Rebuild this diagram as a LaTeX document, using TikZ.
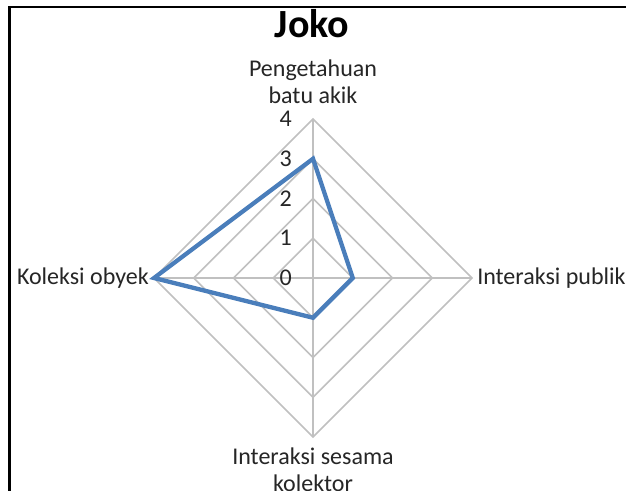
\documentclass[tikz,border=0pt]{standalone}
\usepackage{fontspec}
\setmainfont{Carlito}
\definecolor{gridgray}{HTML}{C0C0C0}
\definecolor{serieblue}{HTML}{4A7EBB}
\tikzset{
  gridline/.style={draw=gridgray, line width=1.1pt},
  series/.style={draw=serieblue, line width=3.2pt, line join=miter},
  lbl/.style={font=\fontsize{18}{20}\selectfont, inner sep=0pt, text=black!85},
  tick/.style={font=\fontsize{18}{20}\selectfont, inner sep=0pt, anchor=east, text=black!85},
  frame/.style={draw=black, line width=1.8pt}
}
\begin{document}
\begin{tikzpicture}[x=0.75pt,y=-0.75pt]
\useasboundingbox (0,0) rectangle (626,491);
\fill[white] (0,0) rectangle (626,491);
% frame
\coordinate (fc) at (9.5,7);
\coordinate (fr) at (626,7);
\coordinate (fb) at (9.5,491);
\draw[frame] (fr) -- (fc) -- (fb);
% center and grid
\def\u{39.75}
\coordinate (O) at (313,278);
\foreach \k in {1,2,3,4}{
  \coordinate (T\k) at (313,278-\k*\u);
  \coordinate (R\k) at (313+\k*\u,278);
  \coordinate (B\k) at (313,278+\k*\u);
  \coordinate (L\k) at (313-\k*\u,278);
  \draw[gridline] (T\k) -- (R\k) -- (B\k) -- (L\k) -- cycle;
}
\draw[gridline] (T4) -- (B4);
\draw[gridline] (L4) -- (R4);
% series
\draw[series] (T3) -- (R1) -- (B1) -- (L4) -- cycle;
% tick labels
\foreach \k in {0,1,2,3,4}{
  \node[tick] (t\k) at (292,278-\k*\u) {\k};
}
% title
\node[font=\fontsize{30}{34}\selectfont\bfseries, inner sep=0pt] (title) at (312,24) {Joko};
% axis labels
\node[lbl, align=center] (lt) at (313,82) {Pengetahuan\\batu akik};
\node[lbl, anchor=west] (lr) at (477,278) {Interaksi publik};
\node[lbl, anchor=east] (ll) at (149,278) {Koleksi obyek};
\node[lbl, align=center, anchor=north] (lb) at (313,448) {Interaksi sesama\\kolektor};
\end{tikzpicture}
\end{document}
